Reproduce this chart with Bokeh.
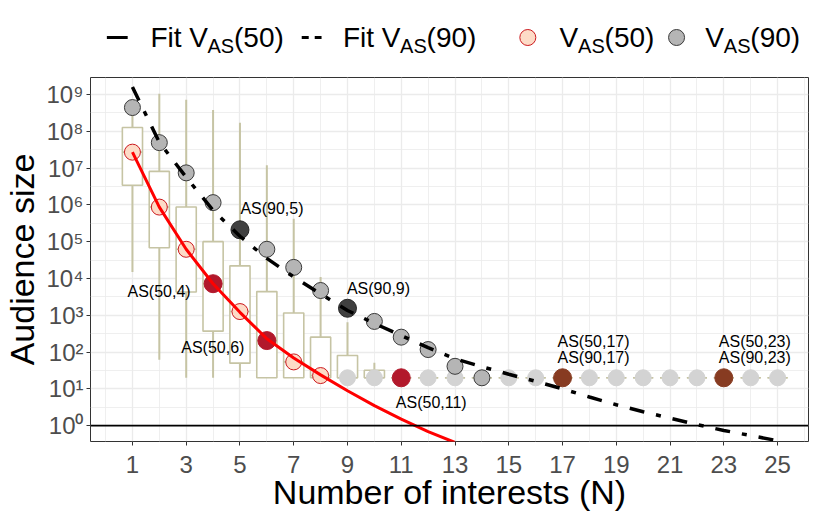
from bokeh.plotting import figure
from bokeh.models import ColumnDataSource, Range1d, FixedTicker, Span, CustomJSTickFormatter, Label
from bokeh.layouts import column
from bokeh.embed import file_html
from bokeh.resources import INLINE
from bokeh.core.properties import value

# ---------------- data ----------------
N = [1, 2, 3, 4, 5, 6, 7, 8, 9, 10, 11, 12, 13, 14, 15, 16, 17, 18, 19, 20, 21, 22, 23, 24, 25]
FLOOR = 20  # minimum audience size reported

# V_AS(50) measured points (N = 1..8), V_AS(90) measured points (N = 1..14)
v50_n = [1, 2, 3, 4, 5, 6, 7, 8]
v50 = [2.7e7, 8.7e5, 6.2e4, 7.2e3, 1.26e3, 205, 54, 23]
v90_n = [1, 2, 3, 4, 5, 6, 7, 8, 9, 10, 11, 12, 13, 14]
v90 = [4.4e8, 4.9e7, 7.4e6, 1.15e6, 2.1e5, 6.2e4, 2.0e4, 4.7e3, 1.55e3, 680, 254, 117, 41, 20]

# points at the floor value (light grey)
floor_n = [9, 10, 12, 13, 15, 16, 18, 19, 20, 21, 22, 24, 25]

# highlighted points
hl50_n = [4, 6, 11]
hl50_v = [7.2e3, 205, 20]
hl90_n = [5, 9]
hl90_v = [2.1e5, 1.55e3]
hlboth_n = [17, 23]
hlboth_v = [20, 20]

# box plot statistics per N
box_lo = [1.5e4, 62, 20, 20, 20, 20, 20, 20, 20, 20, 20, 20, 20, 20, 20, 20, 20, 20, 20, 20, 20, 20, 20, 20, 20]
box_q1 = [3.4e6, 6.8e4, 4.3e3, 370, 50, 20, 20, 20, 20, 20, 20, 20, 20, 20, 20, 20, 20, 20, 20, 20, 20, 20, 20, 20, 20]
box_med = [2.7e7, 8.7e5, 6.2e4, 7.2e3, 1.26e3, 205, 54, 23, 20, 20, 20, 20, 20, 20, 20, 20, 20, 20, 20, 20, 20, 20, 20, 20, 20]
box_q3 = [1.26e8, 8.1e6, 8.7e5, 1.0e5, 2.2e4, 4.4e3, 1.15e3, 254, 81, 32, 20, 20, 20, 20, 20, 20, 20, 20, 20, 20, 20, 20, 20, 20, 20]
box_hi = [5.0e8, 1.05e9, 7.2e8, 3.8e8, 1.7e8, 1.2e7, 4.2e5, 1.1e4, 650, 51, 20, 20, 20, 20, 20, 20, 20, 20, 20, 20, 20, 20, 20, 20, 20]

# fitted curves
fit50_n = [1, 2, 3, 4, 5, 6, 7, 8, 9, 10, 11, 12, 13]
fit50 = [2.7e7, 8.7e5, 6.2e4, 7.2e3, 1.2e3, 230, 69, 24, 8.9, 3.5, 1.5, 0.69, 0.35]
fit90_n = [1, 2, 3, 4, 5, 6, 7, 8, 9, 10, 11, 12, 13, 14, 15, 16, 17, 18, 19, 20, 21, 22, 23, 24, 25]
fit90 = [1.6e9, 5.0e7, 5.6e6, 7.1e5, 1.4e5, 3.5e4, 1.1e4, 3.8e3, 1.35e3, 600, 280, 132, 66, 40, 25,
         16, 10, 6.0, 3.7, 2.4, 1.6, 1.07, 0.74, 0.54, 0.39]

# annotation labels
label_text = ["AS(50,4)", "AS(50,6)", "AS(50,11)", "AS(90,5)", "AS(90,9)",
              "AS(50,17)", "AS(90,17)", "AS(50,23)", "AS(90,23)"]
label_n = [4, 6, 11, 5, 9, 17, 17, 23, 23]
label_v = [7.2e3, 205, 20, 2.1e5, 1.55e3, 20, 20, 20, 20]
label_dx = [-54, -54, 30, 32, 31, 31, 31, 31, 31]
label_dy = [8, 7, 25, -21, -20, -36, -20, -36, -20]

# legend entries
legend_main = ["Fit V", "(50)", "Fit V", "(90)", "V", "(50)", "V", "(90)"]
legend_sub = ["AS", "AS", "AS", "AS"]

x_ticks = [1, 3, 5, 7, 9, 11, 13, 15, 17, 19, 21, 23, 25]
x_minor = [0, 2, 4, 6, 8, 10, 12, 14, 16, 18, 20, 22, 24, 26]
y_ticks = [1, 10, 100, 1e3, 1e4, 1e5, 1e6, 1e7, 1e8, 1e9]
y_tick_labels = ["10⁰", "10¹", "10²", "10³", "10⁴", "10⁵", "10⁶", "10⁷", "10⁸", "10⁹"]
y_minor = [10 ** (k + 0.5) for k in range(9)]

FONT = "Liberation Sans"
BOX_COL = "#c6c4a4"

# ---------------- main plot ----------------
p = figure(frame_width=718, frame_height=364,
           x_range=Range1d(-0.56, 26.15), y_range=Range1d(10 ** -0.43, 10 ** 9.46),
           y_axis_type="log", output_backend="svg", toolbar_location=None,
           min_border_left=84, min_border_right=12, min_border_top=21, min_border_bottom=69)
p.background_fill_color = "white"
p.border_fill_color = "white"
p.outline_line_color = "#333333"
p.outline_line_width = 1

p.xaxis.ticker = FixedTicker(ticks=x_ticks, minor_ticks=x_minor)
p.yaxis.ticker = FixedTicker(ticks=y_ticks, minor_ticks=y_minor)
p.yaxis.formatter = CustomJSTickFormatter(args=dict(tv=y_ticks, tl=y_tick_labels), code="""
for (let i = 0; i < tv.length; i++) {
  if (Math.abs(Math.log10(tv[i]) - Math.log10(tick)) < 1e-6) { return tl[i]; }
}
return '';
""")
for ax in (p.xaxis, p.yaxis):
    ax.axis_line_color = None
    ax.major_tick_out = 4
    ax.major_tick_in = 0
    ax.major_tick_line_color = "#333333"
    ax.major_tick_line_width = 1
    ax.minor_tick_line_color = None
    ax.major_label_text_font = FONT
    ax.major_label_text_font_size = "24px"
    ax.major_label_text_color = "#4d4d4d"
    ax.axis_label_text_font = FONT
    ax.axis_label_text_font_size = "34px"
    ax.axis_label_text_font_style = "normal"
    ax.axis_label_text_color = "black"
p.xaxis.axis_label = "Number of interests (N)"
p.yaxis.axis_label = "Audience size"
p.xaxis.major_label_standoff = 10
p.xaxis.axis_label_standoff = -3
p.yaxis.major_label_standoff = 3
p.yaxis.axis_label_standoff = 2

for g in (p.xgrid, p.ygrid):
    g.grid_line_color = "#ebebeb"
    g.grid_line_width = 1.3
    g.minor_grid_line_color = "#ebebeb"
    g.minor_grid_line_width = 0.8

# box plots
bsrc = ColumnDataSource(dict(n=N, lo=box_lo, q1=box_q1, med=box_med, q3=box_q3, hi=box_hi))
p.segment(x0="n", y0="q3", x1="n", y1="hi", source=bsrc, line_color=BOX_COL, line_width=2)
p.segment(x0="n", y0="q1", x1="n", y1="lo", source=bsrc, line_color=BOX_COL, line_width=2)
p.vbar(x="n", width=0.75, bottom="q1", top="q3", source=bsrc,
       fill_color="white", line_color=BOX_COL, line_width=1.6)
p.scatter(x="n", y="med", source=bsrc, marker="dash", size=20, line_color=BOX_COL, line_width=1.6)

# points
p.scatter(x=floor_n, y=[FLOOR] * len(floor_n), size=16, fill_color="#d3d3d3", line_color="#d3d3d3")
p.scatter(x=v50_n, y=v50, size=16, fill_color="#fddbc7", line_color="#cb181d", line_width=1)
p.scatter(x=v90_n, y=v90, size=16, fill_color="#b5b5b5", line_color="#3a3a3a", line_width=1)
p.scatter(x=hl50_n, y=hl50_v, size=18, fill_color="#b2182b", line_color="#b2182b")
p.scatter(x=hl90_n, y=hl90_v, size=18, fill_color="#404040", line_color="#262626")
p.scatter(x=hlboth_n, y=hlboth_v, size=18, fill_color="#873b21", line_color="#873b21")

# fits
p.line(x=fit50_n, y=fit50, line_color="red", line_width=3)
p.line(x=fit90_n, y=fit90, line_color="black", line_width=3.5, line_dash="15 12 5 12")

p.add_layout(Span(location=1, dimension="width", line_color="black", line_width=1.6))

lsrc = ColumnDataSource(dict(x=label_n, y=label_v, t=label_text, dx=label_dx, dy=label_dy))
p.text(x="x", y="y", text="t", x_offset="dx", y_offset="dy", source=lsrc,
       text_font=value(FONT), text_font_size="16px", text_align="center",
       text_baseline="middle", text_color="black")

# ---------------- legend strip (coordinates = page pixels) ----------------
leg = figure(width=814, height=56, x_range=Range1d(92, 810), y_range=Range1d(56, 0),
             x_axis_type=None, y_axis_type=None, output_backend="svg",
             toolbar_location=None, min_border=0)
leg.grid.visible = False
leg.outline_line_color = None
leg.background_fill_color = "white"
leg.border_fill_color = "white"

KEY_Y = 37
SUB_Y = 45
leg.segment(x0=[108.5], y0=[KEY_Y], x1=[129.5], y1=[KEY_Y], line_color="black", line_width=3)
leg.segment(x0=[305], y0=[KEY_Y], x1=[325], y1=[KEY_Y], line_color="black", line_width=3, line_dash="7 6")
leg.scatter(x=[533], y=[KEY_Y], size=16, fill_color="#fddbc7", line_color="#cb181d", line_width=1)
leg.scatter(x=[683], y=[KEY_Y], size=16, fill_color="#b5b5b5", line_color="#3a3a3a", line_width=1)

main_x = [152.4, 236.7, 346.6, 430.9, 565, 610.4, 712, 757.4]
sub_x = [210, 404.2, 583.7, 730.7]
for xx, tt in zip(main_x, legend_main):
    leg.add_layout(Label(x=xx, y=KEY_Y, text=tt, text_font=FONT, text_font_size="28px",
                         text_align="left", text_baseline="middle", text_color="black"))
for xx, tt in zip(sub_x, legend_sub):
    leg.add_layout(Label(x=xx, y=SUB_Y, text=tt, text_font=FONT, text_font_size="20px",
                         text_align="left", text_baseline="middle", text_color="black"))

layout = column(leg, p)
open("out.html", "w").write(file_html(layout, INLINE))
